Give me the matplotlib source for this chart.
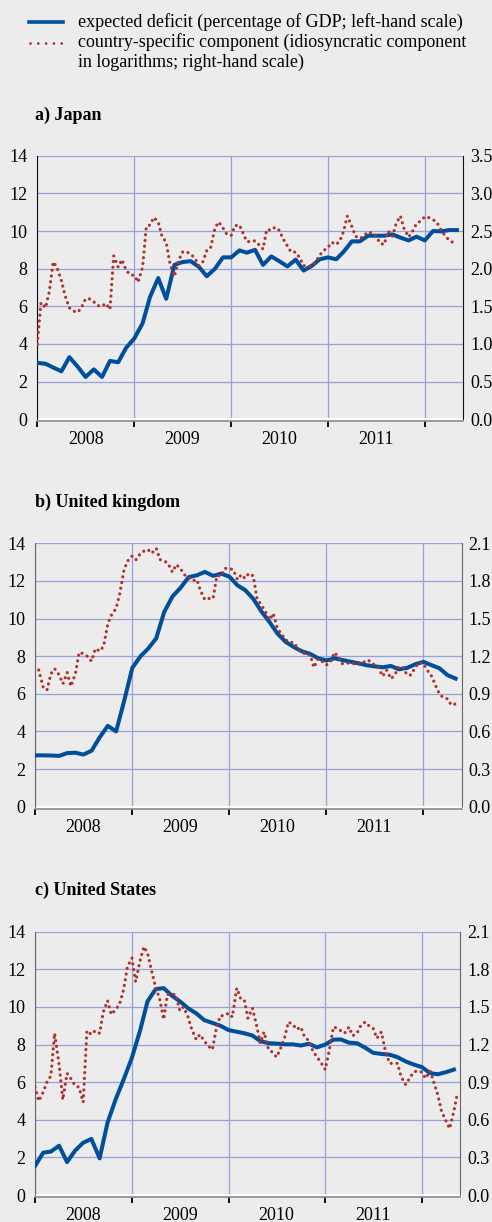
import numpy as np
import pandas as pd
import matplotlib.pyplot as plt
import matplotlib.dates as mdates
from matplotlib.lines import Line2D
from matplotlib.ticker import FormatStrFormatter, NullFormatter

plt.rcParams['font.family'] = ['Liberation Serif', 'DejaVu Serif']

nan = np.nan

# expected deficit, % of GDP (monthly, Jan 2008 - May 2012), left-hand scale
jp_deficit = [3.0, 2.95, 2.75, 2.55, 3.3, 2.8, 2.25, 2.65, 2.25, 3.1,
              3.03, 3.8, 4.3, 5.1, 6.5, 7.5, 6.4, 8.2, 8.35, 8.4,
              8.1, 7.6, 8.0, 8.6, 8.6, 8.97, 8.85, 9.0, 8.2, 8.65,
              8.4, 8.12, 8.48, 7.9, 8.15, 8.5, 8.6, 8.5, 8.9, 9.45,
              9.45, 9.75, 9.75, 9.75, 9.82, 9.65, 9.5, 9.7, 9.5, 10.0,
              9.98, 10.05, 10.05]
uk_deficit = [2.73, 2.73, 2.72, 2.7, 2.85, 2.87, 2.77, 2.98, 3.7, 4.3,
              4.0, 5.6, 7.38, 8.0, 8.39, 8.95, 10.35, 11.17, 11.63, 12.2,
              12.3, 12.48, 12.27, 12.39, 12.23, 11.76, 11.52, 11.05, 10.39, 9.82,
              9.2, 8.76, 8.48, 8.26, 8.12, 7.89, 7.77, 7.89, 7.8, 7.71,
              7.62, 7.52, 7.46, 7.41, 7.48, 7.3, 7.38, 7.57, 7.7, 7.52,
              7.36, 6.99, 6.81]
us_deficit = [1.54, 2.25, 2.31, 2.62, 1.75, 2.37, 2.78, 2.98, 1.95, 3.85,
              5.1, 6.15, 7.3, 8.75, 10.3, 10.95, 11.0, 10.6, 10.3, 9.93,
              9.66, 9.3, 9.15, 9.0, 8.77, 8.68, 8.6, 8.48, 8.18, 8.07,
              8.05, 8.01, 8.01, 7.95, 8.04, 7.85, 8.0, 8.26, 8.27, 8.1,
              8.07, 7.83, 7.56, 7.5, 7.46, 7.33, 7.1, 6.94, 6.8, 6.48,
              6.42, 6.53, 6.67]

# country-specific component (semi-monthly), right-hand scale
jp_country = [1.0, 1.55, 1.48, 1.69, 2.09, 2.02, 1.84, 1.64, 1.48, 1.44,
              1.42, 1.48, 1.6, 1.6, 1.56, 1.51, 1.5, 1.54, 1.46, 2.17,
              2.02, 2.12, 1.98, 1.92, 1.91, 1.82, 2.02, 2.56, 2.58, 2.68,
              2.62, 2.43, 2.35, 2.07, 1.9, 2.09, 2.22, 2.23, 2.19, 2.15,
              2.04, 2.08, 2.24, 2.27, 2.54, 2.62, 2.54, 2.46, 2.44, 2.57,
              2.58, 2.47, 2.36, 2.36, 2.37, 2.32, 2.26, 2.52, 2.51, 2.55,
              2.51, 2.4, 2.3, 2.22, 2.22, 2.15, 2.04, 2.04, 2.03, 2.09,
              2.18, 2.24, 2.28, 2.35, 2.32, 2.37, 2.5, 2.7, 2.56, 2.43,
              2.4, 2.43, 2.49, 2.47, 2.44, 2.34, 2.32, 2.5, 2.43, 2.6,
              2.7, 2.53, 2.42, 2.49, 2.6, 2.63, 2.69, 2.68, 2.65, 2.62,
              2.52, 2.45, 2.38, 2.35, 2.33]
uk_country = [nan, 1.09, 0.95, 0.93, 1.06, 1.1, 1.05, 0.98, 1.07, 0.96,
              1.06, 1.23, 1.22, 1.2, 1.16, 1.26, 1.24, 1.28, 1.46, 1.53,
              1.58, 1.7, 1.89, 1.96, 2.0, 1.97, 2.02, 2.04, 2.05, 2.02,
              2.06, 1.97, 1.96, 1.94, 1.87, 1.93, 1.9, 1.85, 1.83, 1.8,
              1.81, 1.72, 1.65, 1.66, 1.66, 1.84, 1.84, 1.9, 1.9, 1.89,
              1.81, 1.85, 1.82, 1.86, 1.84, 1.66, 1.61, 1.56, 1.49, 1.54,
              1.42, 1.38, 1.33, 1.31, 1.31, 1.26, 1.24, 1.21, 1.21, 1.11,
              1.18, 1.16, 1.13, 1.15, 1.23, 1.19, 1.14, 1.15, 1.14, 1.14,
              1.15, 1.14, 1.17, 1.16, 1.13, 1.11, 1.04, 1.09, 1.02, 1.05,
              1.12, 1.11, 1.05, 1.05, 1.11, 1.15, 1.14, 1.09, 1.04, 0.97,
              0.9, 0.87, 0.86, 0.81, 0.82]
us_country = [0.86, 0.75, 0.82, 0.9, 0.95, 1.29, 1.04, 0.76, 0.97, 0.93,
              0.87, 0.86, 0.74, 1.31, 1.28, 1.31, 1.29, 1.46, 1.55, 1.44,
              1.48, 1.52, 1.64, 1.82, 1.89, 1.7, 1.87, 1.98, 1.93, 1.8,
              1.65, 1.57, 1.4, 1.6, 1.6, 1.6, 1.47, 1.5, 1.42, 1.32,
              1.24, 1.28, 1.23, 1.19, 1.16, 1.32, 1.43, 1.43, 1.45, 1.42,
              1.65, 1.57, 1.56, 1.41, 1.49, 1.37, 1.21, 1.3, 1.16, 1.14,
              1.1, 1.16, 1.26, 1.38, 1.36, 1.32, 1.34, 1.26, 1.23, 1.15,
              1.1, 1.06, 1.0, 1.14, 1.34, 1.33, 1.31, 1.29, 1.34, 1.27,
              1.29, 1.35, 1.38, 1.35, 1.33, 1.25, 1.3, 1.16, 1.05, 1.05,
              1.05, 0.94, 0.88, 0.93, 0.98, 0.99, 0.98, 0.93, 0.99, 0.9,
              0.8, 0.67, 0.59, 0.53, 0.67, 0.82]

titles = ["a) Japan", "b) United kingdom", "c) United States"]
right_max = [3.5, 2.1, 2.1]
right_step = [0.5, 0.3, 0.3]

legend_labels = ["expected deficit (percentage of GDP; left-hand scale)",
                 "country-specific component (idiosyncratic component\n"
                 "in logarithms; right-hand scale)"]

bg = '#ececec'
blue = '#004f9c'
red = '#b0302a'
gridc = '#98a2da'

W, H = 492, 1222
fig = plt.figure(figsize=(W / 100, H / 100), dpi=100, facecolor=bg)

# axes boxes in pixels: left, right, top, bottom
boxes = [(37.3, 463, 155.7, 419.3),
         (35, 461.7, 543.3, 806.7),
         (35, 460, 931.7, 1195)]
title_y = [115, 502, 890]
spine_col = ['#111111', '#666666', '#666666']

deficits = [jp_deficit, uk_deficit, us_deficit]
countries = [jp_country, uk_country, us_country]

for i in range(3):
    l, r, t, b = boxes[i]
    ax = fig.add_axes([l / W, 1 - b / H, (r - l) / W, (b - t) / H])
    ax.set_facecolor(bg)
    ax2 = ax.twinx()

    months = pd.date_range("2008-01-01", periods=len(deficits[i]), freq="MS")
    halves = pd.date_range("2008-01-01", periods=len(countries[i]), freq="SMS")

    ax.plot(months, deficits[i], color=blue, lw=2.9, zorder=3)
    ax2.plot(halves, countries[i], color=red, lw=2.3,
             linestyle=(0, (0.01, 1.8)), dash_capstyle='round')

    ax.set_xlim(pd.Timestamp("2008-01-01"), pd.Timestamp("2012-05-24"))
    ax.set_ylim(0, 14)
    ax.set_yticks(np.arange(0, 15, 2))
    ax2.set_ylim(0, right_max[i])
    ax2.set_yticks(np.arange(0, right_max[i] + 0.01, right_step[i]))
    ax2.yaxis.set_major_formatter(FormatStrFormatter('%.1f'))

    ax.xaxis.set_major_locator(mdates.YearLocator())
    ax.xaxis.set_major_formatter(NullFormatter())
    ax.xaxis.set_minor_locator(mdates.MonthLocator(bymonth=7))
    ax.xaxis.set_minor_formatter(mdates.DateFormatter('%Y'))

    ax.grid(True, which='major', color=gridc, lw=0.9)
    ax.set_axisbelow(True)

    ax.tick_params(axis='x', which='major', length=4, width=1.3, color='black', direction='out')
    ax.tick_params(axis='x', which='minor', length=0, pad=7, labelsize=13)
    ax.tick_params(axis='y', length=0, pad=7, labelsize=13)
    ax2.tick_params(axis='y', length=0, pad=5, labelsize=13)

    for a in (ax, ax2):
        a.spines['top'].set_visible(False)
    ax.spines['right'].set_visible(False)
    ax2.spines['left'].set_visible(False)
    ax2.spines['bottom'].set_visible(False)
    ax.spines['left'].set_color(spine_col[i])
    ax2.spines['right'].set_color(spine_col[i])
    ax.spines['bottom'].set_color('#8a8a8a')
    ax.spines['bottom'].set_linewidth(1.2)
    ax.spines['bottom'].set_position(('outward', 1.5))
    ax.axhline(0, color='white', lw=2.2, clip_on=False, zorder=2.5)

    fig.text(35 / W, 1 - title_y[i] / H, titles[i], fontsize=13,
             fontweight='bold', va='center', ha='left')

# legend
fig.add_artist(Line2D([29 / W, 63 / W], [1 - 22 / H] * 2, color=blue, lw=2.6,
                      transform=fig.transFigure))
fig.add_artist(Line2D([30 / W, 62 / W], [1 - 43 / H] * 2, color=red, lw=2.0,
                      linestyle=(0, (0.01, 2.8)), dash_capstyle='round',
                      transform=fig.transFigure))
fig.text(78 / W, 1 - 22 / H, legend_labels[0], fontsize=13, va='center', ha='left')
fig.text(78 / W, 1 - 33.5 / H, legend_labels[1], fontsize=13, va='top', ha='left',
         linespacing=1.2)

fig.savefig("out.png", dpi=100, facecolor=bg)
